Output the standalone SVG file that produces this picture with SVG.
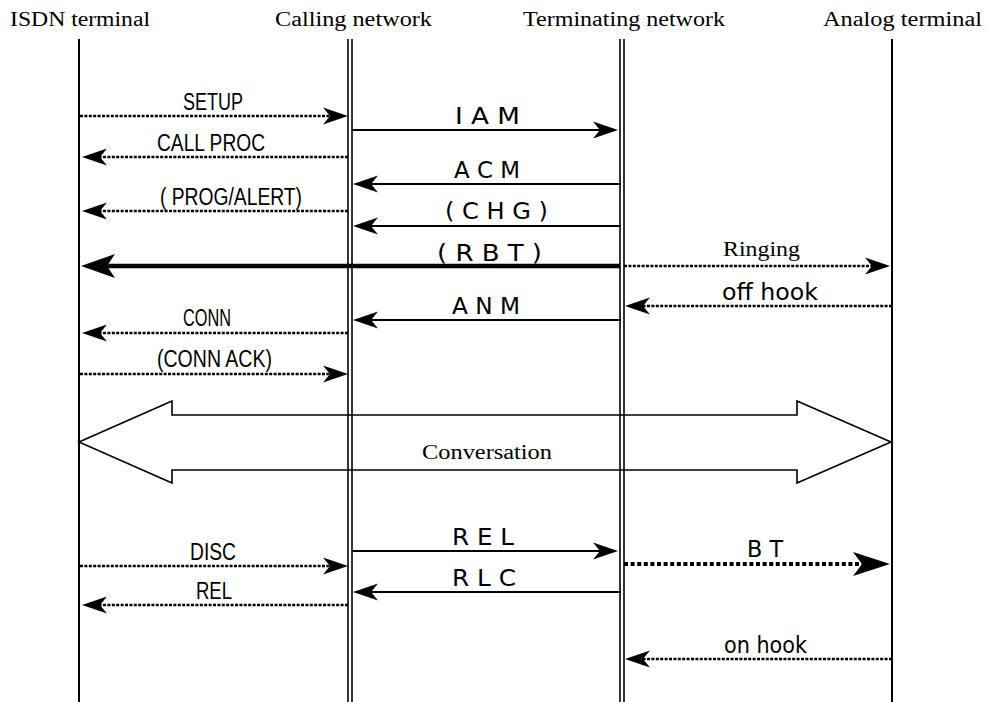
<svg xmlns="http://www.w3.org/2000/svg" width="988" height="702" viewBox="0 0 988 702">
  <style>
    .life { stroke: #000; stroke-width: 2; fill: none; }
    .life2 { stroke: #000; stroke-width: 1.6; fill: none; }
    .solid { stroke: #000; stroke-width: 2; fill: none; }
    .dot { stroke: #000; stroke-width: 2.6; stroke-dasharray: 3 1.4; fill: none; }
    .dotbold { stroke: #000; stroke-width: 4; stroke-dasharray: 4 2.6; fill: none; }
    .bold { stroke: #000; stroke-width: 4.6; fill: none; }
    .head { font-family: "Liberation Serif", "Times New Roman", serif; font-size: 20px; fill: #000; }
    .msg { font-family: "Liberation Sans", Arial, sans-serif; font-size: 23px; fill: #000; }
    .sig { font-family: "DejaVu Sans", "Liberation Sans", sans-serif; font-size: 23px; fill: #000; }
    .conv { fill: none; stroke: #000; stroke-width: 1.6; stroke-linejoin: miter; }
  </style>
  <defs>
    <!-- barbed arrowheads; the notch sits at the line end -->
    <marker id="ah" markerUnits="userSpaceOnUse" orient="auto" overflow="visible" markerWidth="40" markerHeight="30" viewBox="-10 -15 40 30" refX="0" refY="0">
      <path d="M18,0 L-7,-8.5 L0,0 L-7,8.5 Z" fill="#000"/>
    </marker>
    <marker id="ahBig" markerUnits="userSpaceOnUse" orient="auto" overflow="visible" markerWidth="50" markerHeight="30" viewBox="-10 -15 50 30" refX="0" refY="0">
      <path d="M26,0 L-8,-12 L0,0 L-8,12 Z" fill="#000"/>
    </marker>
    <marker id="ahBT" markerUnits="userSpaceOnUse" orient="auto" overflow="visible" markerWidth="50" markerHeight="30" viewBox="-10 -15 50 30" refX="0" refY="0">
      <path d="M28,0 L-9,-12 L0,0 L-9,12 Z" fill="#000"/>
    </marker>
  </defs>

  <rect width="988" height="702" fill="#fff"/>

  <!-- lifelines with their headers -->
  <g id="isdn-terminal">
    <text class="head" x="10" y="26" textLength="140" lengthAdjust="spacingAndGlyphs">ISDN terminal</text>
    <line class="life" x1="79" y1="39" x2="79" y2="702"/>
  </g>
  <g id="calling-network">
    <text class="head" x="275" y="26" textLength="157" lengthAdjust="spacingAndGlyphs">Calling network</text>
    <line class="life2" x1="348" y1="39" x2="348" y2="702"/>
    <line class="life2" x1="352" y1="39" x2="352" y2="702"/>
  </g>
  <g id="terminating-network">
    <text class="head" x="523" y="26" textLength="202" lengthAdjust="spacingAndGlyphs">Terminating network</text>
    <line class="life2" x1="620" y1="39" x2="620" y2="702"/>
    <line class="life2" x1="624" y1="39" x2="624" y2="702"/>
  </g>
  <g id="analog-terminal">
    <text class="head" x="823" y="26" textLength="159" lengthAdjust="spacingAndGlyphs">Analog terminal</text>
    <line class="life" x1="892" y1="39" x2="892" y2="702"/>
  </g>

  <!-- conversation phase -->
  <g id="conversation">
    <polygon class="conv" points="79,442 172,401 172,415 797,415 797,401 891,442 797,483 797,470 172,470 172,483"/>
    <text class="head" x="422" y="459" textLength="130" lengthAdjust="spacingAndGlyphs">Conversation</text>
  </g>

  <!-- signalling messages -->
  <g id="connectors">
    <!-- call setup -->
    <line class="dot" x1="80" y1="116" x2="330" y2="116" marker-end="url(#ah)"/>
    <line class="solid" x1="352" y1="130" x2="600" y2="130" marker-end="url(#ah)"/>
    <line class="dot" x1="348" y1="157" x2="100" y2="157" marker-end="url(#ah)"/>
    <line class="solid" x1="621" y1="184" x2="371" y2="184" marker-end="url(#ah)"/>
    <line class="dot" x1="348" y1="211" x2="100" y2="211" marker-end="url(#ah)"/>
    <line class="solid" x1="621" y1="226" x2="371" y2="226" marker-end="url(#ah)"/>
    <line class="bold" x1="620" y1="266" x2="107" y2="266" marker-end="url(#ahBig)"/>
    <line class="dot" x1="624" y1="266" x2="872" y2="266" marker-end="url(#ah)"/>
    <line class="dot" x1="892" y1="306" x2="643" y2="306" marker-end="url(#ah)"/>
    <line class="solid" x1="621" y1="320" x2="371" y2="320" marker-end="url(#ah)"/>
    <line class="dot" x1="348" y1="333" x2="100" y2="333" marker-end="url(#ah)"/>
    <line class="dot" x1="80" y1="374" x2="330" y2="374" marker-end="url(#ah)"/>
    <!-- release -->
    <line class="dot" x1="80" y1="566" x2="330" y2="566" marker-end="url(#ah)"/>
    <line class="solid" x1="352" y1="551" x2="600" y2="551" marker-end="url(#ah)"/>
    <line class="dotbold" x1="624" y1="564" x2="862" y2="564" marker-end="url(#ahBT)"/>
    <line class="solid" x1="621" y1="592" x2="371" y2="592" marker-end="url(#ah)"/>
    <line class="dot" x1="348" y1="605" x2="100" y2="605" marker-end="url(#ah)"/>
    <line class="dot" x1="892" y1="659" x2="643" y2="659" marker-end="url(#ah)"/>
  </g>

  <!-- message labels -->
  <g id="labels">
    <text class="msg" x="183" y="110" textLength="60" lengthAdjust="spacingAndGlyphs">SETUP</text>
    <text class="sig" x="455" y="124" textLength="65" lengthAdjust="spacingAndGlyphs">I A M</text>
    <text class="msg" x="157" y="151" textLength="108" lengthAdjust="spacingAndGlyphs">CALL PROC</text>
    <text class="sig" x="454" y="178" textLength="66" lengthAdjust="spacingAndGlyphs">A C M</text>
    <text class="msg" x="160" y="205" textLength="142" lengthAdjust="spacingAndGlyphs">( PROG/ALERT)</text>
    <text class="sig" x="445" y="219" textLength="103" lengthAdjust="spacingAndGlyphs">( C H G )</text>
    <text class="sig" x="437" y="261" textLength="105" lengthAdjust="spacingAndGlyphs">( R B T )</text>
    <text class="head" x="723" y="256" textLength="77" lengthAdjust="spacingAndGlyphs">Ringing</text>
    <text class="sig" x="722" y="300" textLength="96" lengthAdjust="spacingAndGlyphs">off hook</text>
    <text class="sig" x="452" y="314" textLength="68" lengthAdjust="spacingAndGlyphs">A N M</text>
    <text class="msg" x="183" y="326" textLength="48" lengthAdjust="spacingAndGlyphs">CONN</text>
    <text class="msg" x="157" y="367" textLength="115" lengthAdjust="spacingAndGlyphs">(CONN ACK)</text>
    <text class="sig" x="452" y="545" textLength="62" lengthAdjust="spacingAndGlyphs">R E L</text>
    <text class="msg" x="190" y="560" textLength="46" lengthAdjust="spacingAndGlyphs">DISC</text>
    <text class="sig" x="747" y="557" textLength="36" lengthAdjust="spacingAndGlyphs">B T</text>
    <text class="sig" x="452" y="586" textLength="64" lengthAdjust="spacingAndGlyphs">R L C</text>
    <text class="msg" x="196" y="599" textLength="36" lengthAdjust="spacingAndGlyphs">REL</text>
    <text class="sig" x="724" y="653" textLength="83" lengthAdjust="spacingAndGlyphs">on hook</text>
  </g>
</svg>
